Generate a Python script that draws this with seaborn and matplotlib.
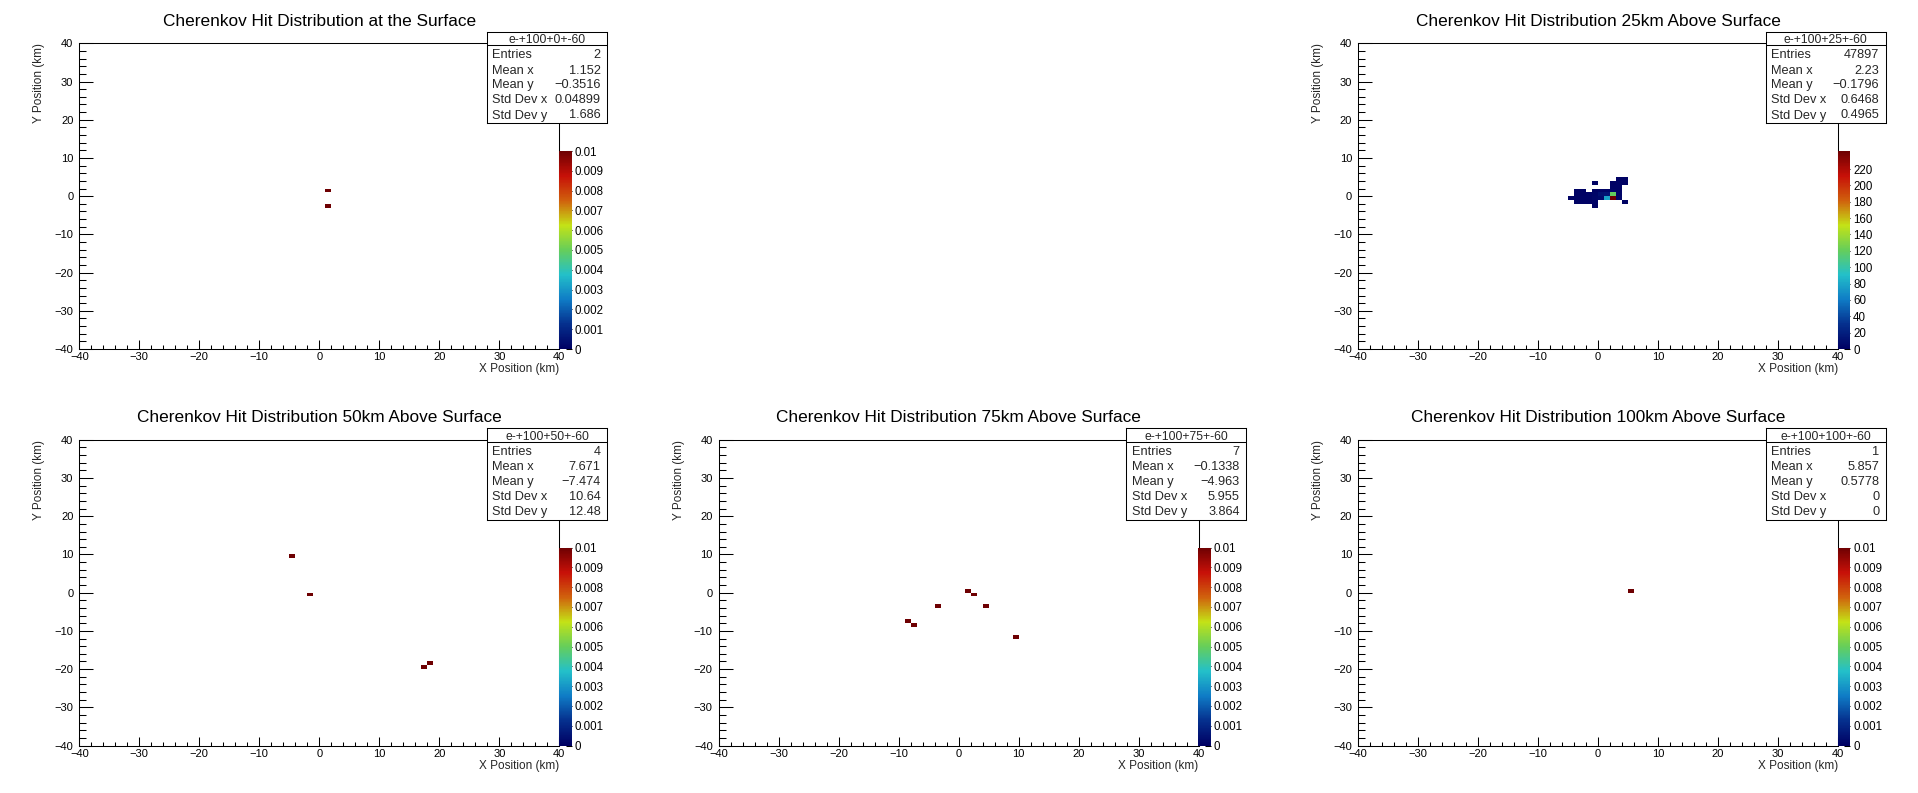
import numpy as np
import pandas as pd
import matplotlib
matplotlib.use("Agg")
import matplotlib.pyplot as plt
from matplotlib.colors import LinearSegmentedColormap
from matplotlib.ticker import MultipleLocator
import seaborn as sns

sns.set_theme(style="ticks")
plt.rcParams['font.family'] = ['Liberation Sans', 'DejaVu Sans']
plt.rcParams['axes.unicode_minus'] = True

# ---------------- data ----------------
titles = [
    "Cherenkov Hit Distribution at the Surface",
    "Cherenkov Hit Distribution 25km Above Surface",
    "Cherenkov Hit Distribution 50km Above Surface",
    "Cherenkov Hit Distribution 75km Above Surface",
    "Cherenkov Hit Distribution 100km Above Surface",
]
hist_names = ["e-+100+0+-60", "e-+100+25+-60", "e-+100+50+-60",
              "e-+100+75+-60", "e-+100+100+-60"]

# hits (km) at the surface
x_0km = [1.103, 1.201]
y_0km = [1.334, -2.038]
w_0km = [1, 1]

# 25 km above surface (bin centres with bin contents)
x_25km = [3.5, 4.5,
          -0.5, 2.5, 3.5, 4.5,
          2.5, 3.5,
          -3.5, -2.5, -0.5, 0.5, 1.5, 2.5, 3.5,
          -3.5, -2.5, -1.5, -0.5, 0.5, 1.5, 2.5, 3.5,
          -4.5, -3.5, -2.5, -1.5, -0.5, 0.5, 1.5, 2.5, 3.5,
          -3.5, -2.5, -1.5, -0.5, 4.5,
          -0.5]
y_25km = [4.5, 4.5,
          3.5, 3.5, 3.5, 3.5,
          2.5, 2.5,
          1.5, 1.5, 1.5, 1.5, 1.5, 1.5, 1.5,
          0.5, 0.5, 0.5, 0.5, 0.5, 0.5, 0.5, 0.5,
          -0.5, -0.5, -0.5, -0.5, -0.5, -0.5, -0.5, -0.5, -0.5,
          -1.5, -1.5, -1.5, -1.5, -1.5,
          -2.5]
w_25km = [1, 1,
          1, 1, 2, 1,
          2, 2,
          1, 1, 1, 2, 2, 3, 2,
          1, 1, 2, 3, 10, 12, 120, 3,
          1, 1, 2, 2, 4, 6, 77, 242, 4,
          1, 1, 1, 2, 1,
          1]

# 50 km above surface
x_50km = [-4.5, -1.5, 17.5, 18.5]
y_50km = [9.5, -0.5, -19.5, -18.5]
w_50km = [1, 1, 1, 1]

# 75 km above surface
x_75km = [-8.5, -7.5, -3.5, 1.5, 2.5, 4.5, 9.5]
y_75km = [-7.5, -8.5, -3.5, 0.5, -0.5, -3.5, -11.5]
w_75km = [1, 1, 1, 1, 1, 1, 1]

# 100 km above surface
x_100km = [5.857]
y_100km = [0.5778]
w_100km = [1]

# statistics boxes (as printed)
stat_labels = ["Entries", "Mean x", "Mean y", "Std Dev x", "Std Dev y"]
stat_entries = ["2", "47897", "4", "7", "1"]
stat_mean_x = ["1.152", "2.23", "7.671", "\u22120.1338", "5.857"]
stat_mean_y = ["\u22120.3516", "\u22120.1796", "\u22127.474", "\u22124.963", "0.5778"]
stat_std_x = ["0.04899", "0.6468", "10.64", "5.955", "0"]
stat_std_y = ["1.686", "0.4965", "12.48", "3.864", "0"]

# colour-scale maxima and ticks
z_max = [0.01, 242, 0.01, 0.01, 0.01]
z_ticks = [
    [0, 0.001, 0.002, 0.003, 0.004, 0.005, 0.006, 0.007, 0.008, 0.009, 0.01],
    [0, 20, 40, 60, 80, 100, 120, 140, 160, 180, 200, 220],
    [0, 0.001, 0.002, 0.003, 0.004, 0.005, 0.006, 0.007, 0.008, 0.009, 0.01],
    [0, 0.001, 0.002, 0.003, 0.004, 0.005, 0.006, 0.007, 0.008, 0.009, 0.01],
    [0, 0.001, 0.002, 0.003, 0.004, 0.005, 0.006, 0.007, 0.008, 0.009, 0.01],
]

xs_all = [x_0km, x_25km, x_50km, x_75km, x_100km]
ys_all = [y_0km, y_25km, y_50km, y_75km, y_100km]
ws_all = [w_0km, w_25km, w_50km, w_75km, w_100km]

# ROOT kRainBow palette
r = [0, 5, 15, 35, 102, 196, 208, 199, 110]
g = [0, 48, 124, 192, 206, 226, 97, 16, 0]
b = [99, 142, 198, 201, 90, 22, 13, 8, 2]
cols = [(rr / 255, gg / 255, bb / 255) for rr, gg, bb in zip(r, g, b)]
cmap = LinearSegmentedColormap.from_list("kRainBow", list(zip(np.linspace(0, 1, 9), cols)), N=256)

# ---------------- layout ----------------
W, H = 1918, 793
fig = plt.figure(figsize=(W / 100, H / 100), dpi=100)
PW, PH = W / 3, H / 2
pads = [(0, 0), (2, 0), (0, 1), (1, 1), (2, 1)]

FS_TICK = 8.0
FS_LAB = 8.5
FS_CB = 8.3
FS_STAT = 9.2
FS_HEAD = 8.7
FS_TITLE = 12.4
lw = 0.75


def fmt_tick(v):
    return "%g" % v


for i, (c, rrow) in enumerate(pads):
    ox, oy = c * PW, rrow * PH
    ax = fig.add_axes([(ox + 79.3) / W, 1 - (oy + 349) / H, 480 / W, 305.7 / H])
    cax = fig.add_axes([(ox + 559.0) / W, 1 - (oy + 349) / H, 12.5 / W, 198 / H])

    df = pd.DataFrame({"x": xs_all[i], "y": ys_all[i], "w": ws_all[i]})
    sns.histplot(data=df, x="x", y="y", weights="w", bins=80,
                 binrange=((-40, 40), (-40, 40)), cmap=cmap,
                 vmin=0, vmax=z_max[i], cbar=True, cbar_ax=cax, ax=ax)

    ax.set_xlim(-40, 40)
    ax.set_ylim(-40, 40)
    ax.xaxis.set_major_locator(MultipleLocator(10))
    ax.xaxis.set_minor_locator(MultipleLocator(2))
    ax.yaxis.set_major_locator(MultipleLocator(10))
    ax.yaxis.set_minor_locator(MultipleLocator(2))
    ax.tick_params(axis="both", which="both", direction="in", top=False, right=False,
                   colors="black", width=lw, labelsize=FS_TICK)
    ax.tick_params(axis="x", which="major", length=6.5, pad=2.3)
    ax.tick_params(axis="x", which="minor", length=3.2)
    ax.tick_params(axis="y", which="major", length=10.4, pad=4.3)
    ax.tick_params(axis="y", which="minor", length=5.2)
    for sp in ax.spines.values():
        sp.set_visible(True)
        sp.set_color("black")
        sp.set_linewidth(lw)
    ax.grid(False)

    ax.set_xlabel("X Position (km)", fontsize=FS_LAB, loc="right")
    ax.xaxis.set_label_coords(1.0, -0.047)
    ax.set_ylabel("Y Position (km)", fontsize=FS_LAB, loc="top")
    ax.yaxis.set_label_coords(-0.071, 1.0)

    ax.text(0.5, 1.0566, titles[i], transform=ax.transAxes, ha="center",
            va="baseline", fontsize=FS_TITLE, color="black")

    # colour bar
    cb = ax.collections[0].colorbar
    cb.outline.set_visible(False)
    cax.set_ylim(0, z_max[i])
    cax.set_yticks(z_ticks[i])
    cax.set_yticklabels([fmt_tick(v) for v in z_ticks[i]])
    cax.yaxis.set_minor_locator(matplotlib.ticker.NullLocator())
    cax.tick_params(axis="y", which="major", direction="in", length=4.3, width=lw,
                    right=True, left=False, labelright=True, labelleft=False,
                    labelsize=FS_CB, pad=2.2, colors="black")

    # statistics box
    sax = fig.add_axes([(ox + 487) / W, 1 - (oy + 123) / H, 120 / W, 91.3 / H])
    sax.set_xlim(0, 120)
    sax.set_ylim(91.3, 0)
    sax.set_xticks([])
    sax.set_yticks([])
    sax.set_facecolor("white")
    for sp in sax.spines.values():
        sp.set_visible(True)
        sp.set_color("black")
        sp.set_linewidth(lw)
    sax.axhline(13.3, color="black", lw=lw)
    sax.text(60, 11.4, hist_names[i], ha="center", va="baseline", fontsize=FS_HEAD)
    vals = [stat_entries[i], stat_mean_x[i], stat_mean_y[i], stat_std_x[i], stat_std_y[i]]
    bases = [26.6, 42.0, 56.6, 71.6, 86.8]
    for lab, val, yb in zip(stat_labels, vals, bases):
        sax.text(5.2, yb, lab, ha="left", va="baseline", fontsize=FS_STAT)
        sax.text(113.5, yb, val, ha="right", va="baseline", fontsize=FS_STAT)

fig.savefig("out.png", dpi=100, facecolor="white")
